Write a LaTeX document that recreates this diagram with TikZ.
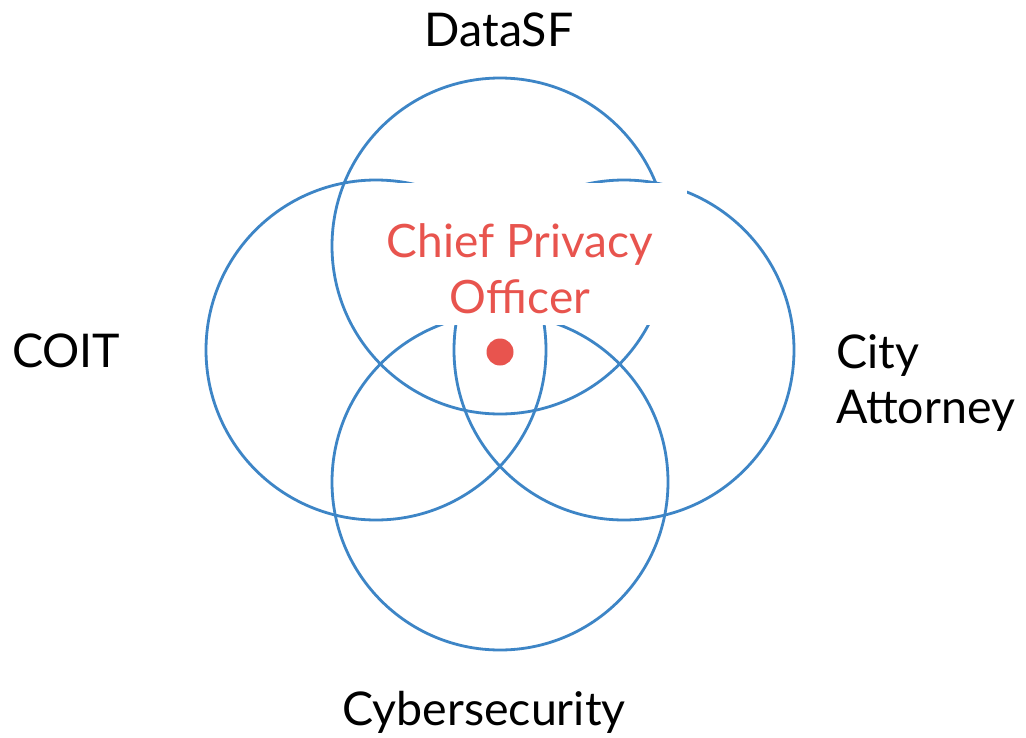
\documentclass[tikz,border=0pt]{standalone}
\usepackage{fontspec}
\setmainfont{Lato}
\definecolor{ringblue}{RGB}{61,133,198}
\definecolor{cpored}{RGB}{232,84,78}
\begin{document}
\begin{tikzpicture}[x=1pt,y=-1pt,
  ring/.style={circle,draw=ringblue,line width=2.8pt,inner sep=0pt,minimum size=#1},
  lbl/.style={inner sep=0pt,font=\fontsize{46.5}{55}\selectfont,text=black},
  cpo/.style={inner sep=0pt,font=\fontsize{46}{56}\selectfont,text=cpored,align=center}]
\useasboundingbox (0,0) rectangle (1026,737);
\fill[white] (0,0) rectangle (1026,737);
% circles
\node[ring=336pt] (datasf) at (500,246) {};
\node[ring=340pt] (coit) at (376,350) {};
\node[ring=340pt] (attorney) at (624,350) {};
\node[ring=336pt] (cyber) at (500,482) {};
% white panel behind the title
\node[fill=white,inner sep=0pt,minimum width=334pt,minimum height=142pt] (panel) at (520,254) {};
\node[cpo] (title) at (520,269) {Chief Privacy\\Officer};
\fill[cpored] (500,352) circle[radius=13.5pt];
\coordinate (dot) at (500,352);
% labels
\node[lbl,anchor=base] (lDataSF) at (499,46) {DataSF};
\node[lbl,anchor=base west] (lCOIT) at (12,367) {COIT};
\node[lbl,anchor=base] (lCyber) at (484,725) {Cybersecurity};
\node[lbl,anchor=west,align=left] (lCity) at (836,383) {City\\Attorney};
\end{tikzpicture}
\end{document}
